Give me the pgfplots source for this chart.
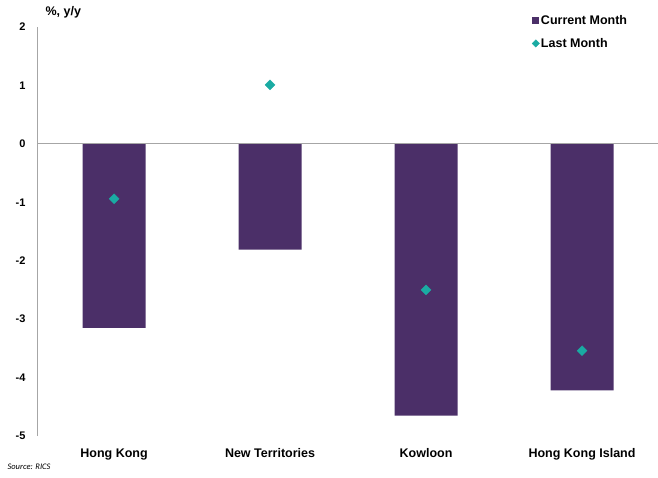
\documentclass[border=0pt]{standalone}
\usepackage{fontspec}
\setmainfont{Liberation Sans}
\newfontfamily\carlito{Carlito}
\usepackage{pgfplots}
\pgfplotsset{compat=1.18}
\definecolor{barpurple}{HTML}{4B2F68}
\definecolor{tealm}{HTML}{1AABA3}
\definecolor{axgray}{HTML}{A6A6A6}
\begin{document}
\begin{tikzpicture}[x=1pt,y=1pt]
\useasboundingbox (0,0) rectangle (658,477);
\begin{axis}[
  at={(37pt,41pt)}, anchor=south west,
  scale only axis, width=621pt, height=409pt,
  xmin=-0.494, xmax=3.487, ymin=-5, ymax=2,
  ytick={-5,-4,-3,-2,-1,0,1,2},
  xtick={0,1,2,3},
  xticklabels={Hong Kong, New Territories, Kowloon, Hong Kong Island},
  axis lines=left,
  x axis line style={draw=none},
  y axis line style={draw=axgray, line width=0.8pt, -},
  major tick length=0pt,
  /pgf/number format/assume math mode=true,
  yticklabel style={font=\bfseries\fontsize{11}{13}\selectfont, xshift=-8pt},
  xticklabel style={font=\bfseries\fontsize{12.5}{15}\selectfont, yshift=-9pt},
  clip=false,
  legend style={at={(0.797,1.032)}, anchor=north west, draw=none, fill=none,
    inner sep=0pt, row sep=9pt, font=\bfseries\fontsize{12.5}{15}\selectfont,
    nodes={inner sep=1.5pt}},
  legend cell align=left,
]
\addplot[ybar, bar width=63pt, fill=barpurple, draw=none,
  legend image code/.code={\fill[barpurple] (0pt,-3.5pt) rectangle (7pt,3.5pt);}]
  coordinates {(0,-3.15) (1,-1.81) (2,-4.65) (3,-4.22)};
\addlegendentry{Current Month}
\addplot[only marks, mark=square*, mark size=3.5pt,
  mark options={rotate=45, fill=tealm, draw=tealm},
  legend image code/.code={\draw[only marks, mark=square*, mark size=2.6pt, mark options={rotate=45, fill=tealm, draw=tealm}] plot coordinates {(3.5pt,0pt)};}]
  coordinates {(0,-0.94) (1,1.01) (2,-2.50) (3,-3.54)};
\addlegendentry{Last Month}
\draw[axgray, line width=0.8pt] (axis cs:-0.494,0) -- (axis cs:3.487,0);
\node[anchor=west, font=\bfseries\fontsize{12.5}{15}\selectfont] at (rel axis cs:0,1) [xshift=5pt, yshift=15pt] {\%, y/y};
\end{axis}
\node[anchor=west, font=\carlito\itshape\fontsize{8.5}{10}\selectfont] at (4,10) {Source: RICS};
\end{tikzpicture}
\end{document}
